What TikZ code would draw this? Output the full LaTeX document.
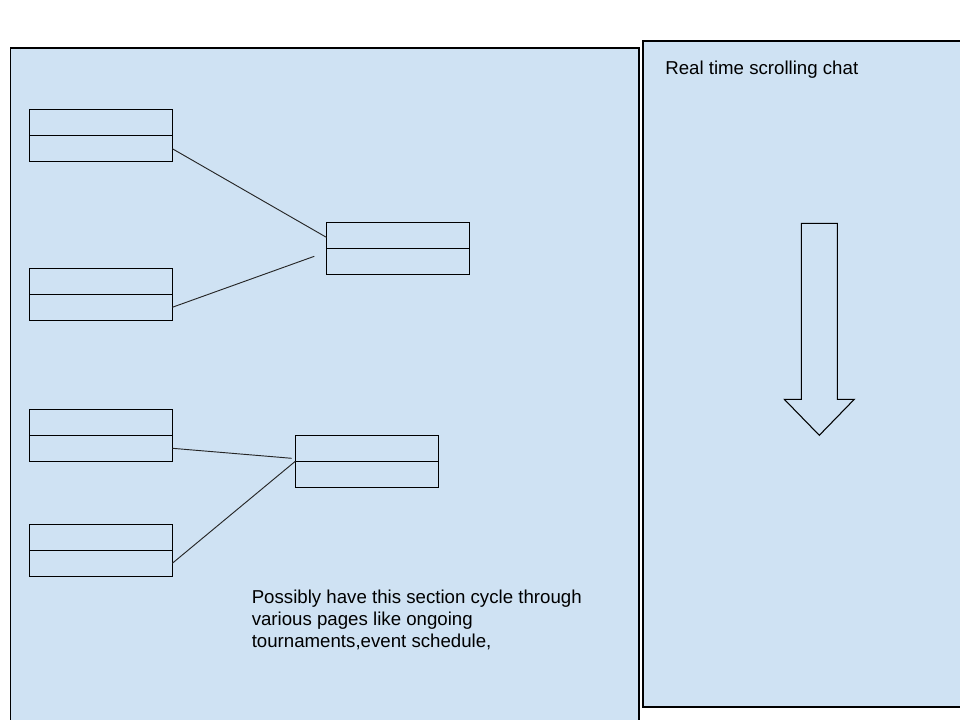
\documentclass[tikz,border=0pt]{standalone}
\usepackage{fontspec}
\setmainfont{Liberation Sans}
\usetikzlibrary{calc}
\definecolor{paleblue}{HTML}{CFE2F3}
\begin{document}
\begin{tikzpicture}[x=0.75pt,y=-0.75pt]

			\tikzstyle{panel}=[fill=paleblue,draw=black,line width=0.9pt]
			\tikzstyle{record}=[fill=paleblue,draw=black,line width=0.8pt,
				minimum width=107.25pt,minimum height=39pt,
				inner sep=0pt,outer sep=0pt,
				path picture={\draw[line width=0.8pt] (path picture bounding box.west)
					-- (path picture bounding box.east);}]
			\tikzstyle{link}=[draw=black!85,line width=0.7pt]
			\tikzstyle{note}=[inner sep=0pt,align=left,
				font=\fontsize{14pt}{16.6pt}\selectfont]

			\useasboundingbox (0,0) rectangle (960,720);
			\fill[white] (0,0) rectangle (960,720);

			% the two panels
			\draw[panel] (10.5,48) rectangle (639,730);
			\draw[panel] (643,41) rectangle (970,707);

			\node[record]	(11)	at (100.8,135.7)	{};
			\node[record]	(12)	at (100.8,294.3)	{};
			\node[record]	(13)	at (398,248.3)	{};
			\node[record]	(21)	at (100.8,435.3)	{};
			\node[record]	(22)	at (100.8,550.3)	{};
			\node[record]	(23)	at (366.8,461.3)	{};

			\coordinate (12x) at (314.3,256.3);
			\coordinate (21x) at (291.7,458.3);

			\draw[link] ($(11.east)!0.5!(11.south east)$) -- ($(13.north west)!0.58!(13.west)$);
			\draw[link] ($(12.east)!0.5!(12.south east)$) -- (12x);
			\draw[link] ($(21.east)!0.5!(21.south east)$) -- (21x);
			\draw[link] ($(22.east)!0.5!(22.south east)$) -- (23.west);

			% scrolling arrow
			\draw[line width=0.8pt,fill=paleblue]
				(801.3,223.3) -- (837.3,223.3) -- (837.3,399.3) -- (854.3,399.3)
				-- (819.3,435.3) -- (784.3,399.3) -- (801.3,399.3) -- cycle;

			\node[note,anchor=base west]	(chat)	at (665,74.3)	{Real time scrolling chat};
			\node[note,anchor=north west]	(cycle)	at (251.5,589.5)
				{Possibly have this section cycle through\\various pages like ongoing\\tournaments,event schedule,};

\end{tikzpicture}
\end{document}
